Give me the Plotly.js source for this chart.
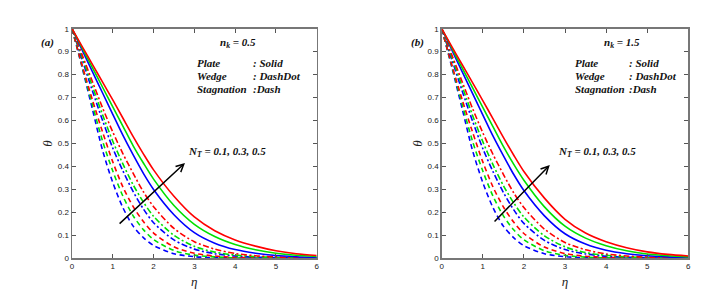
<!DOCTYPE html>
<html>
<head>
<meta charset="utf-8">
<script src="https://cdn.plot.ly/plotly-3.0.1.min.js"></script>
<style>html,body{margin:0;padding:0;background:#fff;}#chart{width:713px;height:290px;}</style>
</head>
<body>
<div id="chart"></div>
<script>
// eta grid shared by all curves
const eta = [0, 0.25, 0.5, 0.75, 1, 1.25, 1.5, 1.75, 2, 2.5, 3, 3.5, 4, 4.5, 5, 5.5, 6];
const ntLabels = ['0.1', '0.3', '0.5'];
const ntColors = ['#0000ff', '#00e000', '#ff0000'];

// Panel (a): n_k = 0.5
const a_plate_01 = [1, 0.907, 0.813, 0.72, 0.627, 0.535, 0.45, 0.37, 0.30, 0.19, 0.112, 0.066, 0.038, 0.022, 0.012, 0.007, 0.004];
const a_plate_03 = [1, 0.915, 0.83, 0.745, 0.66, 0.575, 0.49, 0.415, 0.345, 0.23, 0.148, 0.095, 0.06, 0.037, 0.022, 0.013, 0.008];
const a_plate_05 = [1, 0.922, 0.845, 0.767, 0.69, 0.61, 0.53, 0.455, 0.385, 0.27, 0.18, 0.12, 0.08, 0.053, 0.033, 0.02, 0.012];
const a_wedge_01 = [1, 0.865, 0.73, 0.60, 0.48, 0.38, 0.29, 0.215, 0.155, 0.08, 0.04, 0.02, 0.01, 0.005, 0.003, 0.001, 0.001];
const a_wedge_03 = [1, 0.875, 0.75, 0.625, 0.51, 0.41, 0.32, 0.245, 0.183, 0.10, 0.052, 0.027, 0.014, 0.007, 0.004, 0.002, 0.001];
const a_wedge_05 = [1, 0.885, 0.77, 0.655, 0.55, 0.455, 0.37, 0.29, 0.225, 0.13, 0.072, 0.04, 0.021, 0.011, 0.006, 0.003, 0.002];
const a_stag_01 = [1, 0.83, 0.65, 0.47, 0.33, 0.22, 0.14, 0.09, 0.056, 0.02, 0.007, 0.003, 0.001, 0, 0, 0, 0];
const a_stag_03 = [1, 0.835, 0.67, 0.51, 0.38, 0.27, 0.185, 0.125, 0.082, 0.034, 0.014, 0.006, 0.002, 0.001, 0, 0, 0];
const a_stag_05 = [1, 0.84, 0.69, 0.55, 0.42, 0.31, 0.225, 0.16, 0.11, 0.05, 0.022, 0.01, 0.004, 0.002, 0.001, 0, 0];

// Panel (b): n_k = 1.5
const b_plate_01 = [1, 0.906, 0.812, 0.718, 0.625, 0.532, 0.447, 0.366, 0.295, 0.185, 0.107, 0.062, 0.035, 0.02, 0.011, 0.006, 0.003];
const b_plate_03 = [1, 0.914, 0.828, 0.743, 0.657, 0.572, 0.487, 0.41, 0.34, 0.224, 0.14, 0.088, 0.055, 0.033, 0.019, 0.011, 0.006];
const b_plate_05 = [1, 0.921, 0.843, 0.765, 0.687, 0.607, 0.527, 0.45, 0.378, 0.262, 0.17, 0.11, 0.072, 0.046, 0.028, 0.017, 0.01];
const b_wedge_01 = [1, 0.864, 0.728, 0.598, 0.478, 0.377, 0.287, 0.212, 0.152, 0.078, 0.038, 0.019, 0.009, 0.005, 0.002, 0.001, 0.001];
const b_wedge_03 = [1, 0.874, 0.748, 0.623, 0.508, 0.407, 0.317, 0.242, 0.18, 0.098, 0.05, 0.025, 0.013, 0.006, 0.003, 0.002, 0.001];
const b_wedge_05 = [1, 0.884, 0.768, 0.653, 0.547, 0.452, 0.366, 0.286, 0.221, 0.127, 0.069, 0.037, 0.019, 0.01, 0.005, 0.003, 0.002];
const b_stag_01 = [1, 0.83, 0.65, 0.47, 0.33, 0.22, 0.14, 0.09, 0.055, 0.02, 0.007, 0.003, 0.001, 0, 0, 0, 0];
const b_stag_03 = [1, 0.835, 0.67, 0.51, 0.38, 0.27, 0.185, 0.124, 0.081, 0.033, 0.013, 0.005, 0.002, 0.001, 0, 0, 0];
const b_stag_05 = [1, 0.84, 0.69, 0.55, 0.42, 0.31, 0.224, 0.158, 0.108, 0.049, 0.021, 0.009, 0.004, 0.002, 0.001, 0, 0];

const xTicks = [0, 1, 2, 3, 4, 5, 6];
const yTicks = [0, 0.1, 0.2, 0.3, 0.4, 0.5, 0.6, 0.7, 0.8, 0.9, 1];

const dashStyles = {plate: 'solid', wedge: '6px,2.5px,2px,2.5px', stag: '5px,3.5px'};

function makeTraces(sets, xa, ya) {
  const out = [];
  ['stag', 'wedge', 'plate'].forEach(g => {
    sets[g].forEach((vals, i) => {
      out.push({
        x: eta, y: vals, xaxis: xa, yaxis: ya, type: 'scatter', mode: 'lines',
        line: {color: ntColors[i], width: 1.6, dash: dashStyles[g], shape: 'spline', smoothing: 0.8},
        name: g + ' N_T=' + ntLabels[i], showlegend: false, hoverinfo: 'skip'
      });
    });
  });
  return out;
}

const traces = [
  ...makeTraces({plate: [a_plate_01, a_plate_03, a_plate_05], wedge: [a_wedge_01, a_wedge_03, a_wedge_05], stag: [a_stag_01, a_stag_03, a_stag_05]}, 'x', 'y'),
  ...makeTraces({plate: [b_plate_01, b_plate_03, b_plate_05], wedge: [b_wedge_01, b_wedge_03, b_wedge_05], stag: [b_stag_01, b_stag_03, b_stag_05]}, 'x2', 'y2')
];

const tickFont = {family: 'Liberation Sans, Arial, sans-serif', size: 8, color: '#222'};
const titleFont = {family: 'Liberation Serif, Times New Roman, serif', size: 13, color: '#222'};
function xAxis(domain, anchor) {
  return {domain: domain, anchor: anchor, range: [0, 6], tickvals: xTicks, ticktext: xTicks.map(String),
    ticks: 'inside', ticklen: 4, tickcolor: '#555', tickwidth: 1, mirror: 'ticks', showline: true, linecolor: '#777', linewidth: 1.5,
    showgrid: false, zeroline: false, tickfont: tickFont, automargin: false,
    title: {text: '<i>η</i>', font: titleFont, standoff: 6}};
}
function yAxis(domain, anchor) {
  return {domain: domain, anchor: anchor, range: [0, 1], tickvals: yTicks, ticktext: yTicks.map(String),
    ticks: 'inside', ticklen: 4, tickcolor: '#555', tickwidth: 1, mirror: 'ticks', showline: true, linecolor: '#777', linewidth: 1.5,
    showgrid: false, zeroline: false, tickfont: tickFont, automargin: false,
    title: {text: '<i>θ</i>', font: titleFont, standoff: 2}};
}

const annFont = {family: 'Liberation Serif, Times New Roman, serif', size: 11, color: '#111'};
function panelAnn(xa, ya, tag, nk, px) {
  return [
    {xref: 'paper', yref: 'paper', x: px.tag, y: 1 - 43/290, text: '<b><i>' + tag + '</i></b>', showarrow: false, font: annFont, xanchor: 'center', yanchor: 'middle'},
    {xref: 'paper', yref: 'paper', x: px.nk, y: 1 - 43/290, text: '<b><i>n<sub>k</sub> = ' + nk + '</i></b>', showarrow: false, font: annFont, xanchor: 'center', yanchor: 'middle'},
    {xref: 'paper', yref: 'paper', x: px.col1, y: 1 - 63/290, text: '<b><i>Plate</i></b>', showarrow: false, font: annFont, xanchor: 'left', yanchor: 'middle'},
    {xref: 'paper', yref: 'paper', x: px.col1, y: 1 - 76/290, text: '<b><i>Wedge</i></b>', showarrow: false, font: annFont, xanchor: 'left', yanchor: 'middle'},
    {xref: 'paper', yref: 'paper', x: px.col1, y: 1 - 89/290, text: '<b><i>Stagnation</i></b>', showarrow: false, font: annFont, xanchor: 'left', yanchor: 'middle'},
    {xref: 'paper', yref: 'paper', x: px.col2, y: 1 - 63/290, text: '<b><i>: Solid</i></b>', showarrow: false, font: annFont, xanchor: 'left', yanchor: 'middle'},
    {xref: 'paper', yref: 'paper', x: px.col2, y: 1 - 76/290, text: '<b><i>: DashDot</i></b>', showarrow: false, font: annFont, xanchor: 'left', yanchor: 'middle'},
    {xref: 'paper', yref: 'paper', x: px.col2s, y: 1 - 89/290, text: '<b><i>:Dash</i></b>', showarrow: false, font: annFont, xanchor: 'left', yanchor: 'middle'},
    {xref: 'paper', yref: 'paper', x: px.nt, y: 1 - 152/290, text: '<b><i>N<sub>T</sub> = 0.1, 0.3, 0.5</i></b>', showarrow: false, font: annFont, xanchor: 'left', yanchor: 'middle'},
    {xref: xa, yref: ya, axref: xa, ayref: ya, x: px.arrow[2], y: px.arrow[3], ax: px.arrow[0], ay: px.arrow[1], text: '', showarrow: true,
      arrowhead: 5, arrowsize: 1, arrowwidth: 1.5, arrowcolor: '#000'}
  ];
}

const layout = {
  width: 713, height: 290, margin: {l: 0, r: 0, t: 0, b: 0},
  paper_bgcolor: '#fff', plot_bgcolor: '#fff', showlegend: false,
  xaxis: xAxis([72/713, 316.7/713], 'y'),
  yaxis: yAxis([1 - 258.3/290, 1 - 28.7/290], 'x'),
  xaxis2: xAxis([441.7/713, 688.3/713], 'y2'),
  yaxis2: yAxis([1 - 258.3/290, 1 - 28.7/290], 'x2'),
  annotations: [
    ...panelAnn('x', 'y', '(a)', '0.5', {tag: 47/713, nk: 238/713, col1: 195/713, col2: 251/713, col2s: 251/713, nt: 186/713, arrow: [1.13, 0.145, 2.77, 0.415]}),
    ...panelAnn('x2', 'y2', '(b)', '1.5', {tag: 417/713, nk: 622/713, col1: 573/713, col2: 627/713, col2s: 627/713, nt: 556/713, arrow: [1.25, 0.154, 2.63, 0.406]})
  ]
};

Plotly.newPlot('chart', traces, layout, {staticPlot: true, displayModeBar: false});
</script>
</body>
</html>
